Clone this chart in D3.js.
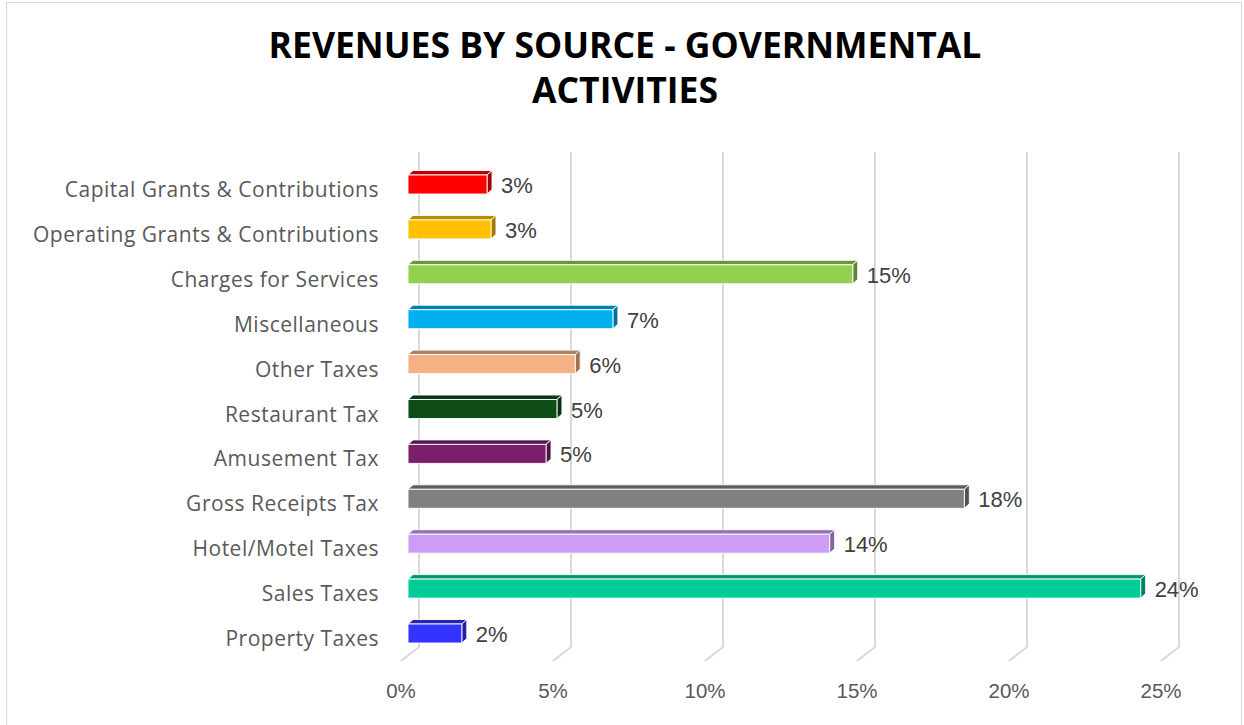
<!DOCTYPE html>
<html>
<head>
<meta charset="utf-8">
<script src="https://cdn.jsdelivr.net/npm/d3@7"></script>
<style>
  html, body { margin: 0; padding: 0; background: #fff; }
  svg { display: block; }
</style>
</head>
<body>
<svg id="chart" width="1244" height="725"></svg>
<script>
// ---- data ----
const categories = [
  "Capital Grants & Contributions",
  "Operating Grants & Contributions",
  "Charges for Services",
  "Miscellaneous",
  "Other Taxes",
  "Restaurant Tax",
  "Amusement Tax",
  "Gross Receipts Tax",
  "Hotel/Motel Taxes",
  "Sales Taxes",
  "Property Taxes"
];
const values = [2.6, 2.73, 14.63, 6.74, 5.5, 4.9, 4.54, 18.3, 13.87, 24.1, 1.77];
const valueLabels = ["3%", "3%", "15%", "7%", "6%", "5%", "5%", "18%", "14%", "24%", "2%"];
const colors = ["#FF0000", "#FFC000", "#92D050", "#00B0F0", "#F4B183", "#0E4D17",
                "#7A1F6E", "#808080", "#CC9CF6", "#00CC99", "#3333FF"];
const ticks = [0, 5, 10, 15, 20, 25];
const tickLabels = ["0%", "5%", "10%", "15%", "20%", "25%"];
const titleLines = ["REVENUES BY SOURCE - GOVERNMENTAL", "ACTIVITIES"];

// ---- layout ----
const W = 1244, H = 725;
const svg = d3.select("#chart");

// chart border
svg.append("rect").attr("x", 6.5).attr("y", 2.5).attr("width", W - 9).attr("height", H)
  .attr("fill", "#fff").attr("stroke", "#d9d9d9").attr("stroke-width", 1);

const x = d3.scaleLinear().domain([0, 25]).range([408, 1168]);
const y = d3.scalePoint().domain(categories).range([184.5, 633.5]);

const wallDx = 11, floorDx = -7;       // back wall / front floor offsets
const wallTop = 152, wallBottom = 647, floorFront = 661;
const barH = 19, depthX = 5, depthY = -4.5;

// gridlines (back wall + floor)
const grid = svg.append("g");
ticks.forEach(t => {
  const xb = x(t) + wallDx, xf = x(t) + floorDx;
  grid.append("path")
    .attr("d", `M${xb},${wallTop} L${xb},${wallBottom} L${xf},${floorFront}`)
    .attr("fill", "none").attr("stroke", "#d9d9d9").attr("stroke-width", 2);
});

// tick labels
svg.append("g").selectAll("text").data(ticks).join("text")
  .attr("x", d => x(d) + floorDx)
  .attr("y", 698)
  .attr("text-anchor", "middle")
  .attr("font-family", "Liberation Sans, Arial, sans-serif")
  .attr("font-size", 20.5)
  .attr("fill", "#595959")
  .text((d, i) => tickLabels[i]);

// bars
const bars = svg.append("g");
categories.forEach((c, i) => {
  const x0 = x(0), x1 = x(values[i]);
  const top = y(c) - barH / 2, bot = y(c) + barH / 2;
  const base = d3.rgb(colors[i]);
  const topCol = base.darker(0.9).formatHex();
  const sideCol = base.darker(1.25).formatHex();
  const g = bars.append("g").attr("stroke", "#ffffff").attr("stroke-width", 0.9).attr("stroke-linejoin", "round");
  g.append("path")
    .attr("d", `M${x0},${top} L${x1},${top} L${x1 + depthX},${top + depthY} L${x0 + depthX},${top + depthY} Z`)
    .attr("fill", topCol);
  g.append("path")
    .attr("d", `M${x1},${top} L${x1 + depthX},${top + depthY} L${x1 + depthX},${bot + depthY} L${x1},${bot} Z`)
    .attr("fill", sideCol);
  g.append("rect")
    .attr("x", x0).attr("y", top).attr("width", x1 - x0).attr("height", barH)
    .attr("fill", colors[i]);
});

// data labels
svg.append("g").selectAll("text").data(categories).join("text")
  .attr("x", (c, i) => x(values[i]) + depthX + 9)
  .attr("y", c => y(c) + 8.5)
  .attr("font-family", "Liberation Sans, Arial, sans-serif")
  .attr("font-size", 22)
  .attr("fill", "#404040")
  .text((c, i) => valueLabels[i]);

// category labels
svg.append("g").selectAll("text").data(categories).join("text")
  .attr("x", 379)
  .attr("y", c => y(c) + 12.5)
  .attr("text-anchor", "end")
  .attr("font-family", "Open Sans, sans-serif")
  .attr("font-size", 21)
  .attr("letter-spacing", 0.5)
  .attr("fill", "#595959")
  .text(c => c);

// title
svg.append("g").selectAll("text").data(titleLines).join("text")
  .attr("x", 625)
  .attr("y", (d, i) => 58 + i * 45)
  .attr("text-anchor", "middle")
  .attr("font-family", "Open Sans, sans-serif")
  .attr("font-weight", "bold")
  .attr("font-size", 35.5)
  .attr("fill", "#000")
  .text(d => d);
</script>
</body>
</html>
